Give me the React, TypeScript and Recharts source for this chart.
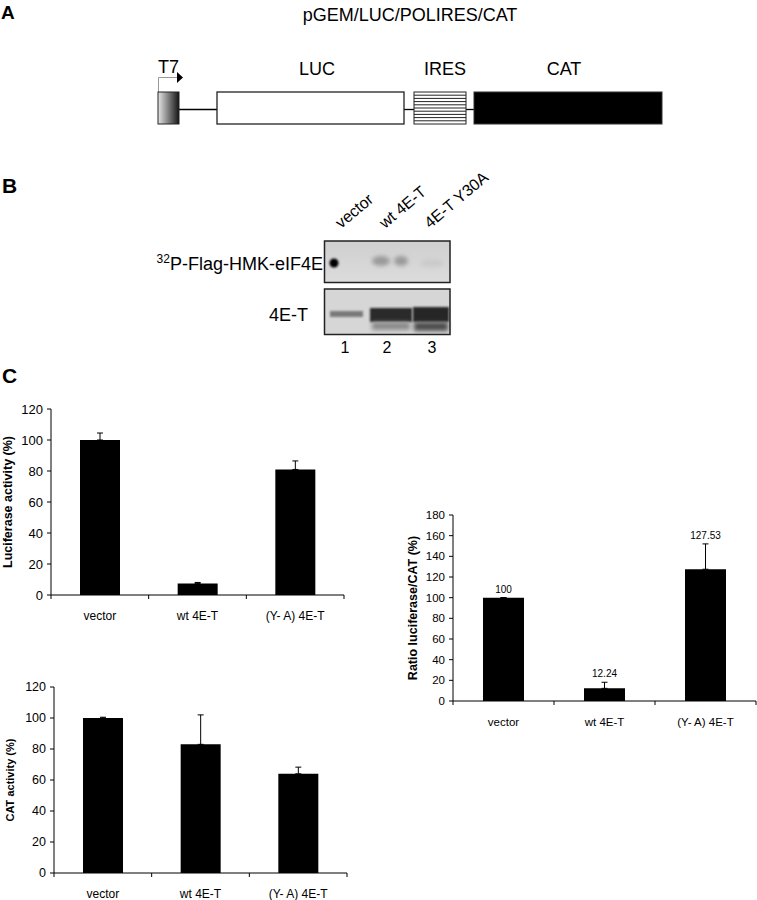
import {
  BarChart,
  Bar,
  XAxis,
  YAxis,
  ErrorBar,
  ComposedChart,
  Line,
  LabelList,
} from "recharts";

// shared categories
const groups = ["vector", "wt 4E-T", "(Y- A) 4E-T"];

// panel C values
const luciferase = [100, 7.5, 81];
const luciferaseErr = [4.5, 0.6, 5.5];
const catActivity = [100, 83, 64];
const catErr = [0.5, 19, 4.3];
const ratio = [100, 12.24, 127.53];
const ratioErr = [0, 5.9, 24.5];
const ratioLabels = ["100", "12.24", "127.53"];

const ticks120 = [0, 20, 40, 60, 80, 100, 120];
const ticks180 = [0, 20, 40, 60, 80, 100, 120, 140, 160, 180];

// panel B text
const laneLabels = ["vector", "wt 4E-T", "4E-T Y30A"];
const laneNumbers = ["1", "2", "3"];

const FONT = "'Liberation Sans', Arial, Helvetica, sans-serif";

const luciferaseData = groups.map((name, i) => ({
  name,
  value: luciferase[i],
  err: [0, luciferaseErr[i]],
}));
const catData = groups.map((name, i) => ({
  name,
  value: catActivity[i],
  err: [0, catErr[i]],
}));
const ratioData = groups.map((name, i) => ({
  name,
  value: ratio[i],
  err: [0, ratioErr[i]],
  top: ratio[i] + ratioErr[i],
  label: ratioLabels[i],
}));

// Excel-like category tick: marks at category boundaries
const makeCatTick = (bandWidth: number, fontSize: number) => (props: any) => {
  const { x, y, payload, index } = props;
  const half = bandWidth / 2;
  return (
    <g>
      <line x1={x - half} x2={x - half} y1={y} y2={y + 4} stroke="#000" />
      {index === groups.length - 1 && (
        <line x1={x + half} x2={x + half} y1={y} y2={y + 4} stroke="#000" />
      )}
      <text x={x} y={y + 25} textAnchor="middle" fontSize={fontSize} fill="#000" fontFamily={FONT}>
        {payload.value}
      </text>
    </g>
  );
};

const PanelA = () => (
  <svg width={757} height={140} style={{ position: "absolute", left: 0, top: 0 }}>
    <defs>
      <linearGradient id="t7grad" x1="0" x2="1" y1="0" y2="0">
        <stop offset="0%" stopColor="#e6e6e6" />
        <stop offset="100%" stopColor="#151515" />
      </linearGradient>
    </defs>
    <text x={1} y={19} fontSize={19} fontWeight="bold" fontFamily={FONT}>A</text>
    <text x={410} y={21} fontSize={18} textAnchor="middle" fontFamily={FONT}>pGEM/LUC/POLIRES/CAT</text>

    <text x={158} y={73} fontSize={18} fontFamily={FONT}>T7</text>
    <polyline points="158.5,92 158.5,77.5 177,77.5" fill="none" stroke="#999" strokeWidth={1} />
    <polygon points="177,72 183,77.5 177,83" fill="#000" />
    <text x={317} y={75} fontSize={18} textAnchor="middle" fontFamily={FONT}>LUC</text>
    <text x={445} y={75} fontSize={18} textAnchor="middle" fontFamily={FONT}>IRES</text>
    <text x={564} y={75} fontSize={18} textAnchor="middle" fontFamily={FONT}>CAT</text>

    <line x1={179} x2={217} y1={109.5} y2={109.5} stroke="#000" strokeWidth={1.3} />
    <line x1={404} x2={414} y1={109.5} y2={109.5} stroke="#000" strokeWidth={1.3} />
    <line x1={466} x2={474} y1={109.5} y2={109.5} stroke="#000" strokeWidth={1.3} />

    <rect x={158} y={92} width={21} height={32} fill="url(#t7grad)" stroke="#222" strokeWidth={1} />
    <rect x={217} y={92} width={187} height={32} fill="#fff" stroke="#222" strokeWidth={1.3} />
    <rect x={414} y={92} width={52} height={32} fill="#fff" stroke="#222" strokeWidth={1} />
    {[0, 1, 2, 3, 4, 5, 6, 7, 8].map((k) => (
      <line key={k} x1={414} x2={466} y1={95.2 + k * 3.2} y2={95.2 + k * 3.2} stroke="#222" strokeWidth={1} />
    ))}
    <rect x={474} y={92} width={188} height={32} fill="#000" stroke="#333" strokeWidth={1} />
  </svg>
);

const PanelB = () => (
  <>
    <svg width={757} height={200} style={{ position: "absolute", left: 0, top: 160 }}>
      <defs>
        <filter id="blur2" x="-50%" y="-50%" width="200%" height="200%">
          <feGaussianBlur stdDeviation="2" />
        </filter>
        <filter id="blur1" x="-50%" y="-50%" width="200%" height="200%">
          <feGaussianBlur stdDeviation="1.2" />
        </filter>
        <linearGradient id="gelTop" x1="0" x2="0" y1="0" y2="1">
          <stop offset="0%" stopColor="#cfcfcf" />
          <stop offset="100%" stopColor="#dcdcdc" />
        </linearGradient>
      </defs>
      <text x={2} y={33} fontSize={21} fontWeight="bold" fontFamily={FONT}>B</text>

      {/* upper blot */}
      <rect x={324.5} y={81} width={125.5} height={41.5} fill="url(#gelTop)" />
      <circle cx={334} cy={103} r={4.5} fill="#000" filter="url(#blur1)" />
      <ellipse cx={381} cy={101} rx={9} ry={5} fill="#9a9a9a" filter="url(#blur2)" />
      <ellipse cx={401} cy={101} rx={7} ry={5} fill="#9a9a9a" filter="url(#blur2)" />
      <ellipse cx={432} cy={103} rx={12} ry={4} fill="#cacaca" filter="url(#blur2)" />
      <rect x={324.5} y={81} width={125.5} height={41.5} fill="none" stroke="#222" strokeWidth={1.5} />

      {/* lower blot */}
      <rect x={324.5} y={129} width={125.5} height={45.5} fill="#d6d6d6" />
      <rect x={330} y={151} width={33} height={6} fill="#7a7a7a" filter="url(#blur1)" />
      <rect x={370} y={148} width={42} height={14} fill="#2a2a2a" filter="url(#blur1)" />
      <rect x={372} y={162} width={38} height={8} fill="#8a8a8a" filter="url(#blur2)" />
      <rect x={413} y={147} width={36} height={15} fill="#262626" filter="url(#blur1)" />
      <rect x={414} y={162} width={34} height={9} fill="#4d4d4d" filter="url(#blur2)" />
      <rect x={324.5} y={129} width={125.5} height={45.5} fill="none" stroke="#222" strokeWidth={1.5} />

      {laneLabels.map((t, i) => {
        const xs = [341, 385, 430];
        return (
          <text
            key={t}
            x={xs[i]}
            y={69}
            fontSize={16}
            fontFamily={FONT}
            transform={`rotate(-40 ${xs[i]} 69)`}
          >
            {t}
          </text>
        );
      })}
      {laneNumbers.map((t, i) => {
        const xs = [345, 387, 432];
        return (
          <text key={t} x={xs[i]} y={193} fontSize={16} textAnchor="middle" fontFamily={FONT}>
            {t}
          </text>
        );
      })}
      <text x={323} y={110} fontSize={18} textAnchor="end" fontFamily={FONT}>
        <tspan fontSize={12} dy={-7}>32</tspan>
        <tspan dy={7}>P-Flag-HMK-eIF4E</tspan>
      </text>
      <text x={308} y={161} fontSize={18} textAnchor="end" fontFamily={FONT}>4E-T</text>
    </svg>
  </>
);

const tickStyle = (fs: number) => ({ fontSize: fs, fill: "#000", fontFamily: FONT });

export default function App() {
  return (
    <div
      style={{
        position: "absolute",
        left: 0,
        top: 0,
        width: 757,
        height: 900,
        background: "#fff",
        fontFamily: FONT,
        overflow: "hidden",
      }}
    >
      <PanelA />
      <PanelB />

      <svg width={40} height={30} style={{ position: "absolute", left: 0, top: 362 }}>
        <text x={2} y={21} fontSize={21} fontWeight="bold" fontFamily={FONT}>C</text>
      </svg>

      {/* Luciferase activity */}
      <div style={{ position: "absolute", left: 0, top: 395 }}>
        <BarChart
          width={350}
          height={240}
          data={luciferaseData}
          margin={{ top: 14, right: 6, bottom: 0, left: 0 }}
          barSize={40}
        >
          <XAxis
            dataKey="name"
            height={40}
            axisLine={{ stroke: "#000" }}
            tickLine={false}
            tickSize={0}
            tickMargin={0}
            interval={0}
            tick={makeCatTick(293 / 3, 12)}
          />
          <XAxis xAxisId="top" dataKey="name" orientation="top" height={0} tick={false} tickLine={false} axisLine={{ stroke: "#000" }} />
          <YAxis
            width={51}
            domain={[0, 120]}
            ticks={ticks120}
            tickSize={4}
            tickMargin={4}
            axisLine={{ stroke: "#000" }}
            tickLine={{ stroke: "#000" }}
            tick={tickStyle(13)}
            label={{
              value: "Luciferase activity (%)",
              angle: -90,
              position: "insideLeft",
              offset: 8,
              style: { textAnchor: "middle", fontSize: 12.5, fontWeight: "bold", fill: "#000", fontFamily: FONT },
            }}
          />
          <YAxis yAxisId="right" orientation="right" width={0} domain={[0, 120]} tick={false} tickLine={false} axisLine={{ stroke: "#000" }} />
          <Bar dataKey="value" fill="#000" isAnimationActive={false}>
            <ErrorBar dataKey="err" width={3} stroke="#000" strokeWidth={1} />
          </Bar>
        </BarChart>
      </div>

      {/* CAT activity */}
      <div style={{ position: "absolute", left: 0, top: 673 }}>
        <BarChart
          width={353}
          height={227}
          data={catData}
          margin={{ top: 14, right: 6, bottom: 0, left: 0 }}
          barSize={40}
        >
          <XAxis
            dataKey="name"
            height={27}
            axisLine={{ stroke: "#000" }}
            tickLine={false}
            tickSize={0}
            tickMargin={0}
            interval={0}
            tick={makeCatTick(293 / 3, 12)}
          />
          <XAxis xAxisId="top" dataKey="name" orientation="top" height={0} tick={false} tickLine={false} axisLine={{ stroke: "#000" }} />
          <YAxis
            width={54}
            domain={[0, 120]}
            ticks={ticks120}
            tickSize={4}
            tickMargin={4}
            axisLine={{ stroke: "#000" }}
            tickLine={{ stroke: "#000" }}
            tick={tickStyle(12.5)}
            label={{
              value: "CAT activity (%)",
              angle: -90,
              position: "insideLeft",
              offset: 10,
              style: { textAnchor: "middle", fontSize: 11, fontWeight: "bold", fill: "#000", fontFamily: FONT },
            }}
          />
          <YAxis yAxisId="right" orientation="right" width={0} domain={[0, 120]} tick={false} tickLine={false} axisLine={{ stroke: "#000" }} />
          <Bar dataKey="value" fill="#000" isAnimationActive={false}>
            <ErrorBar dataKey="err" width={3} stroke="#000" strokeWidth={1} />
          </Bar>
        </BarChart>
      </div>

      {/* Ratio luciferase/CAT */}
      <div style={{ position: "absolute", left: 395, top: 500 }}>
        <ComposedChart
          width={362}
          height={240}
          data={ratioData}
          margin={{ top: 15, right: 1, bottom: 0, left: 0 }}
          barSize={41}
        >
          <XAxis
            dataKey="name"
            height={39}
            axisLine={{ stroke: "#000" }}
            tickLine={false}
            tickSize={0}
            tickMargin={0}
            interval={0}
            tick={makeCatTick(303 / 3, 11.5)}
          />
          <XAxis xAxisId="top" dataKey="name" orientation="top" height={0} tick={false} tickLine={false} axisLine={{ stroke: "#000" }} />
          <YAxis
            width={58}
            domain={[0, 180]}
            ticks={ticks180}
            tickSize={4}
            tickMargin={4}
            axisLine={{ stroke: "#000" }}
            tickLine={{ stroke: "#000" }}
            tick={tickStyle(11.5)}
            label={{
              value: "Ratio luciferase/CAT (%)",
              angle: -90,
              position: "insideLeft",
              offset: 18,
              style: { textAnchor: "middle", fontSize: 12.5, fontWeight: "bold", fill: "#000", fontFamily: FONT },
            }}
          />
          <YAxis yAxisId="right" orientation="right" width={0} domain={[0, 180]} tick={false} tickLine={false} axisLine={{ stroke: "#000" }} />
          <Bar dataKey="value" fill="#000" isAnimationActive={false}>
            <ErrorBar dataKey="err" width={3} stroke="#000" strokeWidth={1} />
          </Bar>
          <Line
            dataKey="top"
            stroke="none"
            dot={false}
            activeDot={false}
            legendType="none"
            isAnimationActive={false}
          >
            <LabelList dataKey="label" position="top" offset={5} style={{ fontSize: 10, fill: "#000", fontFamily: FONT }} />
          </Line>
        </ComposedChart>
      </div>
    </div>
  );
}
